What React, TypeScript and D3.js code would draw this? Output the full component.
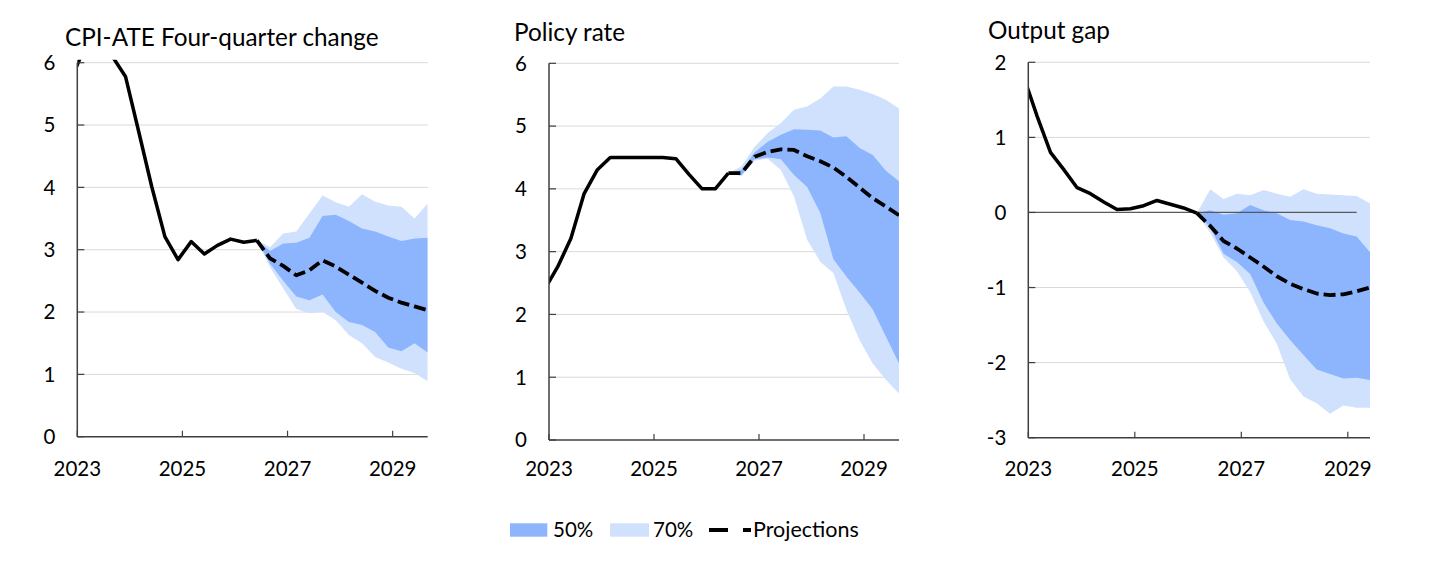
import * as d3 from 'd3'
import React from 'react'

// quarter labels, plotted at the quarter-end month
const quarters = [
  '2022Q4',
  '2023Q1', '2023Q2', '2023Q3', '2023Q4',
  '2024Q1', '2024Q2', '2024Q3', '2024Q4',
  '2025Q1', '2025Q2', '2025Q3', '2025Q4',
  '2026Q1', '2026Q2', '2026Q3', '2026Q4',
  '2027Q1', '2027Q2', '2027Q3', '2027Q4',
  '2028Q1', '2028Q2', '2028Q3', '2028Q4',
  '2029Q1', '2029Q2', '2029Q3',
]

const yearTicks = [2023, 2025, 2027, 2029]
const cpiTicks = [0, 1, 2, 3, 4, 5, 6]
const rateTicks = [0, 1, 2, 3, 4, 5, 6]
const gapTicks = [-3, -2, -1, 0, 1, 2]

// CPI-ATE, history 2022Q4-2026Q2, projection 2026Q2-2029Q3
const cpiHist = [5.8, 6.3, 6.8, 6.1, 5.78, 4.9, 4.01, 3.21, 2.84, 3.13, 2.93, 3.07, 3.17, 3.12, 3.15]
const cpiProj = [3.15, 2.86, 2.74, 2.59, 2.67, 2.83, 2.73, 2.6, 2.47, 2.34, 2.23, 2.15, 2.09, 2.03]
const cpi50Hi = [3.15, 2.98, 3.1, 3.11, 3.19, 3.54, 3.56, 3.46, 3.34, 3.29, 3.21, 3.14, 3.18, 3.19]
const cpi50Lo = [3.15, 2.78, 2.5, 2.25, 2.19, 2.28, 2.0, 1.84, 1.79, 1.68, 1.43, 1.37, 1.5, 1.35]
const cpi70Hi = [3.15, 3.04, 3.26, 3.29, 3.58, 3.87, 3.76, 3.69, 3.89, 3.77, 3.71, 3.69, 3.5, 3.74]
const cpi70Lo = [3.15, 2.72, 2.38, 2.05, 1.98, 2.0, 1.87, 1.63, 1.5, 1.28, 1.19, 1.09, 1.02, 0.89]

// Policy rate, history 2022Q4-2026Q2, projection 2026Q2-2029Q3
const rateHist = [2.4, 2.76, 3.21, 3.92, 4.3, 4.5, 4.5, 4.5, 4.5, 4.5, 4.48, 4.23, 4.0, 4.0, 4.25]
const rateProj = [4.25, 4.25, 4.51, 4.59, 4.63, 4.62, 4.52, 4.44, 4.34, 4.19, 4.02, 3.85, 3.72, 3.58]
const rate50Hi = [4.25, 4.3, 4.58, 4.75, 4.86, 4.95, 4.94, 4.93, 4.82, 4.84, 4.65, 4.54, 4.29, 4.12]
const rate50Lo = [4.25, 4.22, 4.47, 4.5, 4.47, 4.22, 4.03, 3.62, 2.88, 2.6, 2.35, 2.08, 1.65, 1.22]
const rate70Hi = [4.25, 4.36, 4.67, 4.89, 5.05, 5.26, 5.31, 5.44, 5.63, 5.63, 5.58, 5.51, 5.42, 5.28]
const rate70Lo = [4.25, 4.2, 4.45, 4.48, 4.3, 3.88, 3.19, 2.84, 2.66, 2.07, 1.59, 1.22, 0.96, 0.74]

// Output gap, history 2022Q4-2026Q1, projection 2026Q1-2029Q2
const gapHist = [1.8, 1.28, 0.8, 0.57, 0.33, 0.25, 0.14, 0.04, 0.05, 0.09, 0.16, 0.11, 0.06, -0.01]
const gapProj = [-0.01, -0.18, -0.38, -0.48, -0.6, -0.72, -0.85, -0.95, -1.02, -1.08, -1.1, -1.09, -1.05, -1.0]
const gap50Hi = [-0.01, 0.03, -0.03, -0.01, 0.1, 0.03, -0.01, -0.1, -0.12, -0.17, -0.21, -0.28, -0.32, -0.53]
const gap50Lo = [-0.01, -0.2, -0.55, -0.66, -0.82, -1.2, -1.48, -1.7, -1.9, -2.09, -2.15, -2.21, -2.2, -2.23]
const gap70Hi = [-0.01, 0.31, 0.18, 0.25, 0.23, 0.3, 0.25, 0.21, 0.31, 0.25, 0.24, 0.23, 0.22, 0.12]
const gap70Lo = [-0.01, -0.27, -0.6, -0.78, -1.06, -1.45, -1.75, -2.22, -2.45, -2.54, -2.68, -2.57, -2.6, -2.6]

const FONT = 'Lato, "Open Sans", sans-serif'
const AXIS = '#3f3f3f'
const GRID = '#d9d9d9'
const BAND50 = '#8db5fd'
const BAND70 = '#d0e1fe'
const TICK_FS = 20.5

const qTime = (label: string) => +label.slice(0, 4) + (3 * +label.slice(5) - 1) / 12

const series = (start: string, values: number[]) => {
  const i0 = quarters.indexOf(start)
  return values.map((v, i) => ({ t: qTime(quarters[i0 + i]), v }))
}

const bandRows = (start: string, lo: number[], hi: number[]) => {
  const i0 = quarters.indexOf(start)
  return lo.map((l, i) => ({ t: qTime(quarters[i0 + i]), lo: l, hi: hi[i] }))
}

interface PanelProps {
  id: string
  title: string
  titleX: number
  titleY: number
  left: number
  right: number
  top: number
  bottom: number
  xEnd: string
  yTicks: number[]
  hist: { t: number; v: number }[]
  proj: { t: number; v: number }[]
  band50: { t: number; lo: number; hi: number }[]
  band70: { t: number; lo: number; hi: number }[]
  zeroTo?: string
}

const Panel = ({ id, title, titleX, titleY, left, right, top, bottom, xEnd, yTicks, hist, proj, band50, band70, zeroTo }: PanelProps) => {
  const x = d3.scaleLinear().domain([2023, qTime(xEnd)]).range([left, right])
  const y = d3.scaleLinear().domain(d3.extent(yTicks) as [number, number]).range([bottom, top])
  const line = d3.line<{ t: number; v: number }>().x((d) => x(d.t)).y((d) => y(d.v))
  const area = d3
    .area<{ t: number; lo: number; hi: number }>()
    .x((d) => x(d.t))
    .y0((d) => y(d.lo))
    .y1((d) => y(d.hi))
  const yMin = yTicks[0]
  const clip = `clip-${id}`

  return (
    <g>
      <defs>
        <clipPath id={clip}>
          <rect x={left} y={top - 3} width={right - left} height={bottom - top + 3} />
        </clipPath>
      </defs>
      <text x={titleX} y={titleY} fontSize={24.3} fill="#000">
        {title}
      </text>
      {yTicks
        .filter((t) => t !== yMin && !(zeroTo && t === 0))
        .map((t) => (
          <line key={t} x1={left} x2={right} y1={y(t)} y2={y(t)} stroke={GRID} strokeWidth={1} />
        ))}
      <g clipPath={`url(#${clip})`}>
        <path d={area(band70) ?? ''} fill={BAND70} />
        <path d={area(band50) ?? ''} fill={BAND50} />
        {zeroTo && (
          <line x1={left} x2={x(qTime(zeroTo))} y1={y(0)} y2={y(0)} stroke="#595959" strokeWidth={1.3} />
        )}
        <path d={line(hist) ?? ''} fill="none" stroke="#000" strokeWidth={3.5} strokeLinejoin="round" />
        <path
          d={line(proj) ?? ''}
          fill="none"
          stroke="#000"
          strokeWidth={3.8}
          strokeDasharray="12,5"
          strokeLinejoin="round"
        />
      </g>
      {/* axes */}
      <line x1={left} x2={left} y1={top} y2={bottom} stroke={AXIS} strokeWidth={1.5} />
      <line x1={left} x2={right} y1={bottom} y2={bottom} stroke={AXIS} strokeWidth={1.5} />
      {yTicks.map((t) => (
        <g key={t}>
          <line x1={left} x2={left + 7} y1={y(t)} y2={y(t)} stroke={AXIS} strokeWidth={1.2} />
          <text x={left - 22} y={y(t)} dy="0.36em" textAnchor="end" fontSize={TICK_FS}>
            {t}
          </text>
        </g>
      ))}
      {yearTicks.map((yr) => (
        <g key={yr}>
          <line x1={x(yr)} x2={x(yr)} y1={bottom} y2={bottom - 6} stroke={AXIS} strokeWidth={1.2} />
          <text x={x(yr)} y={476} textAnchor="middle" fontSize={TICK_FS}>
            {yr}
          </text>
        </g>
      ))}
    </g>
  )
}

export default function App() {
  return (
    <svg
      width={1445}
      height={568}
      style={{ position: 'absolute', left: 0, top: 0, background: '#fff', fontFamily: FONT }}
    >
      <rect width={1445} height={568} fill="#fff" />
      <Panel
        id="cpi"
        title="CPI-ATE Four-quarter change"
        titleX={65}
        titleY={46}
        left={77.3}
        right={427.7}
        top={62.7}
        bottom={436.7}
        xEnd="2029Q3"
        yTicks={cpiTicks}
        hist={series('2022Q4', cpiHist)}
        proj={series('2026Q2', cpiProj)}
        band50={bandRows('2026Q2', cpi50Lo, cpi50Hi)}
        band70={bandRows('2026Q2', cpi70Lo, cpi70Hi)}
      />
      <Panel
        id="rate"
        title="Policy rate"
        titleX={514}
        titleY={41}
        left={549}
        right={899}
        top={63.3}
        bottom={440}
        xEnd="2029Q3"
        yTicks={rateTicks}
        hist={series('2022Q4', rateHist)}
        proj={series('2026Q2', rateProj)}
        band50={bandRows('2026Q2', rate50Lo, rate50Hi)}
        band70={bandRows('2026Q2', rate70Lo, rate70Hi)}
      />
      <Panel
        id="gap"
        title="Output gap"
        titleX={988}
        titleY={39}
        left={1028.3}
        right={1370}
        top={62.3}
        bottom={437.7}
        xEnd="2029Q2"
        yTicks={gapTicks}
        hist={series('2022Q4', gapHist)}
        proj={series('2026Q1', gapProj)}
        band50={bandRows('2026Q1', gap50Lo, gap50Hi)}
        band70={bandRows('2026Q1', gap70Lo, gap70Hi)}
        zeroTo="2029Q1"
      />
      {/* legend */}
      <rect x={510} y={523.3} width={37.3} height={13.4} fill={BAND50} />
      <text x={553} y={537} fontSize={20.5}>50%</text>
      <rect x={610} y={523.3} width={39} height={13.4} fill={BAND70} />
      <text x={653} y={537} fontSize={20.5}>70%</text>
      <line x1={709} x2={751} y1={530} y2={530} stroke="#000" strokeWidth={4} strokeDasharray="19,15" />
      <text x={753} y={537} fontSize={21.5}>Projections</text>
    </svg>
  )
}
